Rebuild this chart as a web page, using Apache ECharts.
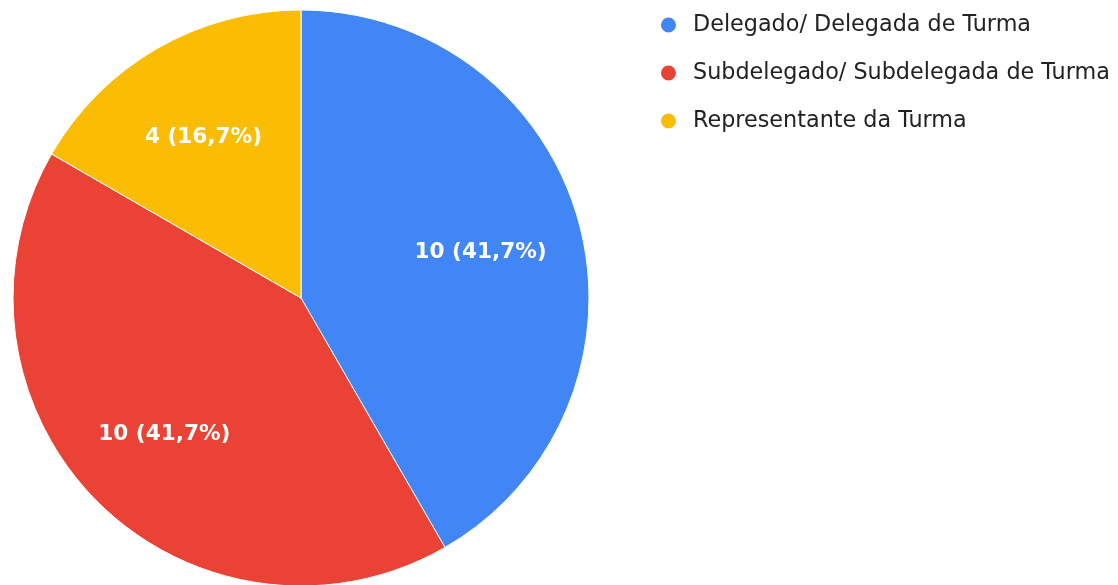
<!DOCTYPE html>
<html>
<head>
<meta charset="utf-8">
<script src="https://cdn.jsdelivr.net/npm/echarts@6/dist/echarts.min.js"></script>
<style>
  html, body { margin: 0; padding: 0; background: #fff; }
  #main { width: 1118px; height: 585px; }
</style>
</head>
<body>
<div id="main"></div>
<script>
// dados do gráfico
var categorias = ['Delegado/ Delegada de Turma', 'Subdelegado/ Subdelegada de Turma', 'Representante da Turma'];
var valores = [10, 10, 4];
var cores = ['#4285F4', '#EA4335', '#FBBC04'];

var total = valores.reduce(function (a, b) { return a + b; }, 0);
var dados = categorias.map(function (nome, i) {
    return { name: nome, value: valores[i], itemStyle: { color: cores[i] } };
});

function rotulo(p) {
    var pct = (p.value / total * 100).toFixed(1).replace('.', ',');
    return p.value + ' (' + pct + '%)';
}

var chart = echarts.init(document.getElementById('main'));
chart.setOption({
    animation: false,
    legend: {
        orient: 'vertical',
        left: 654,
        top: 9,
        icon: 'circle',
        itemWidth: 17,
        itemHeight: 17,
        itemGap: 26,
        textStyle: {
            fontFamily: 'DejaVu Sans',
            fontSize: 22.3,
            lineHeight: 22,
            color: '#222',
            padding: [0, 0, 0, 11]
        },
        data: categorias
    },
    series: [
        {
            type: 'pie',
            center: [301, 298],
            radius: [0, 288],
            startAngle: 90,
            clockwise: true,
            label: { show: false },
            labelLine: { show: false },
            itemStyle: { borderColor: '#fff', borderWidth: 1 },
            emphasis: { disabled: true },
            data: dados
        },
        {
            // série invisível só para posicionar os rótulos
            type: 'pie',
            center: [301, 298],
            radius: [0, 372],
            startAngle: 90,
            clockwise: true,
            silent: true,
            itemStyle: { color: 'transparent', borderWidth: 0 },
            label: {
                show: true,
                position: 'inside',
                formatter: rotulo,
                color: '#fff',
                fontFamily: 'DejaVu Sans',
                fontWeight: 'bold',
                fontSize: 21.6,
                offset: [-3, 3]
            },
            labelLine: { show: false },
            emphasis: { disabled: true },
            data: categorias.map(function (nome, i) {
                return { name: nome, value: valores[i] };
            })
        }
    ]
});
</script>
</body>
</html>
